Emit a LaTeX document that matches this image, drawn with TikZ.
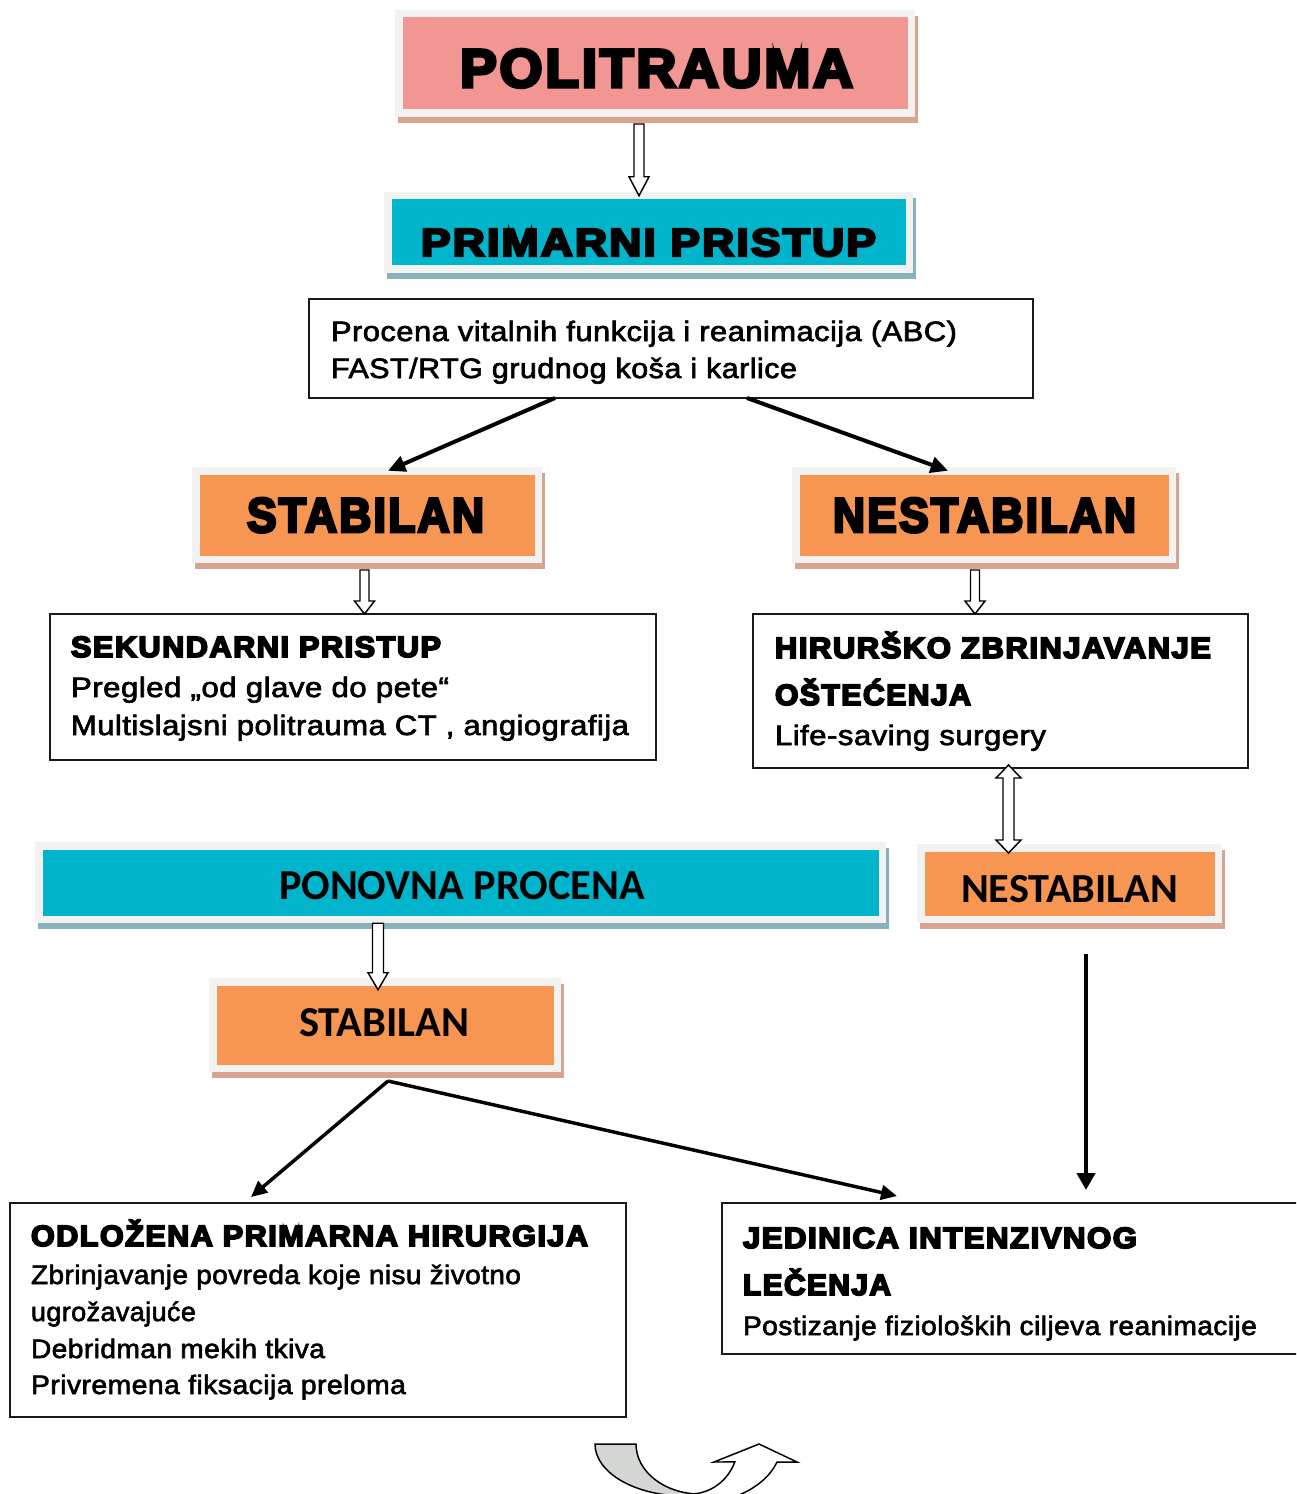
\documentclass[tikz,border=0pt]{standalone}
\usepackage{fontspec}
\usepackage{graphicx}
\setmainfont{Liberation Sans}
\newfontfamily\blackf{Liberation Sans}[FakeBold=6, LetterSpace=5]
\newfontfamily\bodyf{Liberation Sans}[FakeBold=2.2, LetterSpace=1.5]
\newfontfamily\calf{Carlito}
\usetikzlibrary{arrows.meta,calc}
\definecolor{frameclr}{HTML}{F2F2F0}
\definecolor{pinkfill}{HTML}{F29694}
\definecolor{tanshadow}{HTML}{D8A491}
\definecolor{cyanfill}{HTML}{00B5CB}
\definecolor{blueshadow}{HTML}{88B1B9}
\definecolor{orangefill}{HTML}{F79553}
\definecolor{curvegray}{HTML}{D4D6D4}
\newsavebox\fitbox
\newcommand\fitx[2]{\sbox\fitbox{#2}\pgfmathsetmacro\fitscale{#1*0.75/\the\wd\fitbox}\scalebox{\fitscale}[1]{\usebox\fitbox}}
\newcommand\harrow[5]{%
 \draw[hol] let \p1=(#1), \p2=(#2) in
 (\x1-#3*0.75pt,\y1) -- (\x1-#3*0.75pt,\y2+#5*0.75pt) -- (\x1-#4*0.75pt,\y2+#5*0.75pt) -- (\x1,\y2)
 -- (\x1+#4*0.75pt,\y2+#5*0.75pt) -- (\x1+#3*0.75pt,\y2+#5*0.75pt) -- (\x1+#3*0.75pt,\y1) -- cycle;}
\newcommand\dharrow[5]{%
 \draw[hol] let \p1=(#1), \p2=(#2) in
 (\x1,\y1) -- (\x1+#4*0.75pt,\y1-#5*0.75pt) -- (\x1+#3*0.75pt,\y1-#5*0.75pt) -- (\x1+#3*0.75pt,\y2+#5*0.75pt)
 -- (\x1+#4*0.75pt,\y2+#5*0.75pt) -- (\x1,\y2) -- (\x1-#4*0.75pt,\y2+#5*0.75pt) -- (\x1-#3*0.75pt,\y2+#5*0.75pt)
 -- (\x1-#3*0.75pt,\y1-#5*0.75pt) -- (\x1-#4*0.75pt,\y1-#5*0.75pt) -- cycle;}
\begin{document}
\begin{tikzpicture}[x=0.75pt,y=-0.75pt,
 sz/.style 2 args={minimum width=#1*0.75pt, minimum height=#2*0.75pt},
 cardbase/.style={draw=frameclr, line width=5.625pt, inner sep=0pt, outer sep=0pt,
   preaction={draw=#1, fill=#1, transform canvas={shift={(3,6)}}}},
 pinkcard/.style={cardbase=tanshadow, fill=pinkfill},
 cyancard/.style={cardbase=blueshadow, fill=cyanfill},
 orangecard/.style={cardbase=tanshadow, fill=orangefill},
 tbox/.style={draw=black!90, line width=1.4pt, inner sep=0pt, outer sep=0pt},
 hdr/.style={anchor=base west, inner sep=0pt, outer sep=0pt, font={\blackf\bfseries\fontsize{#1pt}{#1pt}\selectfont}},
 bod/.style={anchor=base west, inner sep=0pt, outer sep=0pt, font={\bodyf\fontsize{#1pt}{#1pt}\selectfont}},
 cal/.style={anchor=base west, inner sep=0pt, outer sep=0pt, font={\calf\bfseries\fontsize{#1pt}{#1pt}\selectfont}},
 hol/.style={draw=black, fill=white, line width=1.1pt, line join=miter},
 thk/.style={line width=3pt, -{Triangle[length=13pt,width=12pt]}},
 thm/.style={line width=2.6pt, -{Triangle[length=12pt,width=11pt]}},
 thv/.style={line width=3.6pt, -{Triangle[length=12.75pt,width=13.5pt]}},
]
\useasboundingbox (0,0) rectangle (1296,1494);
\fill[white] (0,0) rectangle (1296,1494);
\clip (0,0) rectangle (1296,1494);

% cards
\node[pinkcard, sz={512.5}{99.5}] (pol) at (655,63.5) {};
\node[cyancard, sz={521.5}{73.5}] (prim) at (648.5,232.5) {};
\node[orangecard, sz={342.5}{88.5}] (stab1) at (367,515) {};
\node[orangecard, sz={376.5}{88.5}] (nest1) at (984,515) {};
\node[cyancard, sz={843.5}{73.5}] (pon) at (460.5,882.5) {};
\node[orangecard, sz={297.5}{71.5}] (nest2) at (1069.5,883.5) {};
\node[orangecard, sz={344.5}{86.5}] (stab2) at (385,1025) {};

% text boxes
\node[tbox, sz={724}{99}] (proc) at (671,348.5) {};
\node[tbox, sz={606}{146}] (sek) at (353,687) {};
\node[tbox, sz={495}{154}] (hir) at (1000.5,691) {};
\node[tbox, sz={616}{214}] (odl) at (318,1310) {};
\node[tbox, sz={588}{151}] (jed) at (1016,1278.5) {};

% card texts
\node[hdr=40.5] (tpol) at (460,87) {\fitx{393}{POLITRAUMA}};
\node[hdr=29.3] (tprim) at (421,256) {\fitx{455}{PRIMARNI PRISTUP}};
\node[hdr=36.5] (tstab1) at (247,532) {\fitx{237}{STABILAN}};
\node[hdr=36.5] (tnest1) at (833,532) {\fitx{303}{NESTABILAN}};
\node[cal=32] (tpon) at (279,899) {\fitx{366}{PONOVNA PROCENA}};
\node[cal=31] (tnest2) at (961,902) {\fitx{217}{NESTABILAN}};
\node[cal=32] (tstab2) at (299,1036) {\fitx{170}{STABILAN}};

% box texts
\node[bod=21] (tproc1) at (331,341) {\fitx{626}{Procena vitalnih funkcija i reanimacija (ABC)}};
\node[bod=21] (tproc2) at (331,378) {\fitx{466}{FAST/RTG grudnog koša i karlice}};
\node[hdr=22] (tsek1) at (71,657) {\fitx{370}{SEKUNDARNI PRISTUP}};
\node[bod=21] (tsek2) at (71,697) {\fitx{378}{Pregled „od glave do pete“}};
\node[bod=21] (tsek3) at (71,735) {\fitx{558}{Multislajsni politrauma CT , angiografija}};
\node[hdr=22] (thir1) at (775,658) {\fitx{436}{HIRURŠKO ZBRINJAVANJE}};
\node[hdr=22] (thir2) at (775,705) {\fitx{196}{OŠTEĆENJA}};
\node[bod=21] (thir3) at (775,745) {\fitx{271}{Life-saving surgery}};
\node[hdr=22] (todl1) at (31,1246) {\fitx{557}{ODLOŽENA PRIMARNA HIRURGIJA}};
\node[bod=20] (todl2) at (31,1284) {\fitx{490}{Zbrinjavanje povreda koje nisu životno}};
\node[bod=20] (todl3) at (31,1321) {\fitx{165}{ugrožavajuće}};
\node[bod=20] (todl4) at (31,1358) {\fitx{294}{Debridman mekih tkiva}};
\node[bod=20] (todl5) at (31,1394) {\fitx{375}{Privremena fiksacija preloma}};
\node[hdr=22] (tjed1) at (743,1248) {\fitx{394}{JEDINICA INTENZIVNOG}};
\node[hdr=22] (tjed2) at (743,1295) {\fitx{148}{LEČENJA}};
\node[bod=20] (tjed3) at (743,1335) {\fitx{514}{Postizanje fizioloških ciljeva reanimacije}};

% hollow arrows
\harrow{$(pol.south)+(-16,10.75)$}{prim.north}{5}{10}{19}
\harrow{$(stab1.south)+(-2.5,10.75)$}{sek.north}{4.5}{10}{13}
\harrow{$(nest1.south)+(-9,10.75)$}{hir.north}{4.5}{10}{13}
\harrow{$(pon.south)+(-82.5,4)$}{$(stab2.north)+(0,8)$}{5.5}{10}{17}
\dharrow{$(hir.south)+(8,-3)$}{$(nest2.north)+(0,5.25)$}{5.5}{12.5}{13}

% solid arrows
\draw[thk] ($(proc.south)+(-116,0)$) -- ($(stab1.north)+(21,0)$);
\draw[thk] ($(proc.south)+(76,0)$) -- ($(nest1.north)+(-36,0)$);
\draw[thm] ($(stab2.south)+(3,12.75)$) -- ($(odl.north)+(-67,-6)$);
\draw[thm] ($(stab2.south)+(3,12.75)$) -- ($(jed.north)+(-119,-7)$);
\draw[thv] ($(nest2.south)+(16.5,35)$) -- ($(jed.north)+(70,-13)$);

% bottom curved arrow
\filldraw[fill=curvegray, draw=black, line width=1.1pt]
 (595,1444) arc[start angle=180, end angle=90, x radius=90, y radius=52]
 -- (700,1494) arc[start angle=90, end angle=180, x radius=64, y radius=50] -- cycle;
\filldraw[fill=white, draw=black, line width=1.1pt, line join=miter]
 (690,1494) arc[start angle=90, end angle=21, x radius=48, y radius=50]
 -- (714,1462) -- (759,1444) -- (797,1462) -- (777,1462)
 arc[start angle=17, end angle=90, x radius=91, y radius=60] -- cycle;
\end{tikzpicture}
\end{document}
